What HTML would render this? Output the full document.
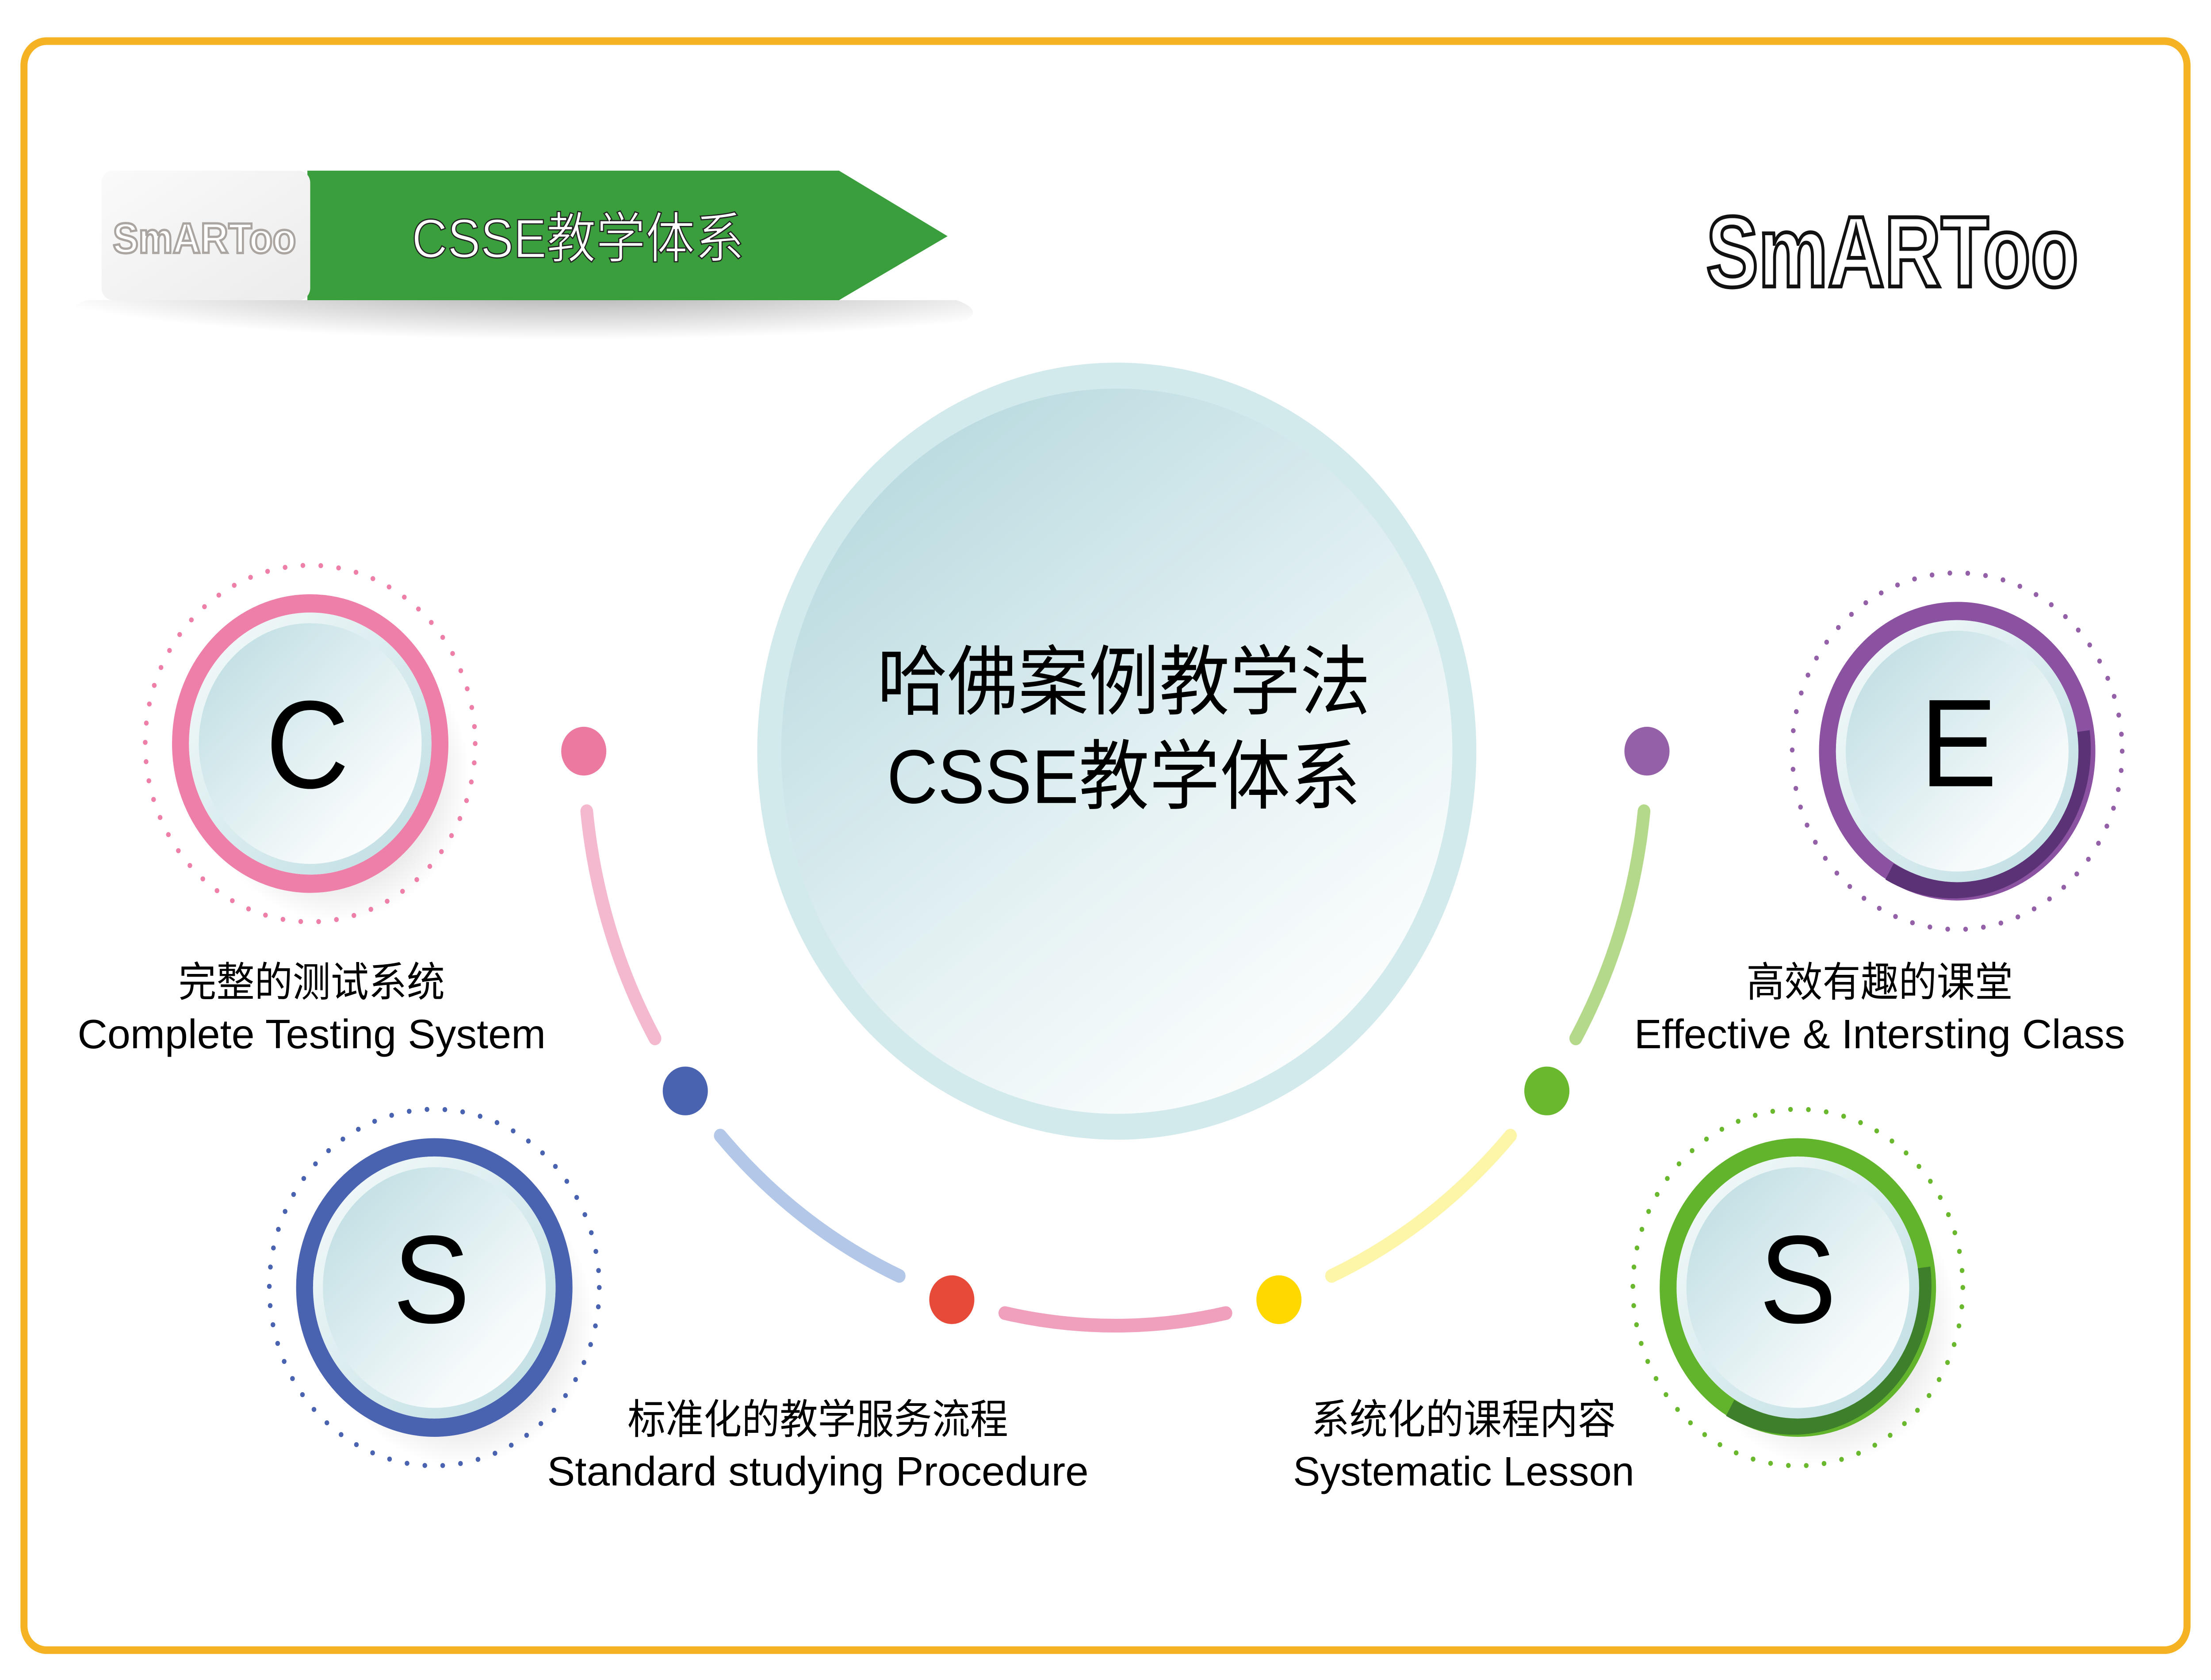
<!DOCTYPE html>
<html><head><meta charset="utf-8"><style>
html,body{margin:0;padding:0;background:#fff;width:100%;height:100%;overflow:hidden;}
svg{display:block;position:fixed;left:0;top:0;width:100vw;height:100vh;}
text{font-family:"Liberation Sans","Noto Sans CJK SC",sans-serif;}
</style></head><body>
<svg viewBox="0 0 1568 1102.6" preserveAspectRatio="none" xmlns="http://www.w3.org/2000/svg">
<defs>
<linearGradient id="fill" x1="0" y1="0" x2="1" y2="1">
<stop offset="0" stop-color="#b9dbe0"/><stop offset="0.75" stop-color="#f6fafb"/><stop offset="1" stop-color="#ffffff"/>
</linearGradient>
<linearGradient id="fill2" x1="1" y1="1" x2="0" y2="0">
<stop offset="0" stop-color="#bcdde2"/><stop offset="1" stop-color="#f7fbfb"/>
</linearGradient>
<linearGradient id="big" x1="0.2" y1="0.1" x2="0.8" y2="0.9">
<stop offset="0" stop-color="#bcdce1"/><stop offset="0.6" stop-color="#e6f2f4"/><stop offset="1" stop-color="#fbfdfd"/>
</linearGradient>
<radialGradient id="shad" cx="0.5" cy="0.5" r="0.5">
<stop offset="0" stop-color="#000" stop-opacity="0.3"/><stop offset="1" stop-color="#000" stop-opacity="0"/>
</radialGradient>
<radialGradient id="bshad" cx="0.55" cy="0.2" r="0.6">
<stop offset="0" stop-color="#000" stop-opacity="0.35"/><stop offset="1" stop-color="#000" stop-opacity="0"/>
</radialGradient>
<linearGradient id="logo" x1="0" y1="0" x2="1" y2="1">
<stop offset="0" stop-color="#fafafa"/><stop offset="1" stop-color="#ececec"/>
</linearGradient>
</defs>
<rect width="1568" height="1102.6" fill="#fff"/>
<rect x="17" y="27" width="1534" height="1056" rx="16" fill="none" stroke="#f5b324" stroke-width="5"/>

<ellipse cx="370" cy="205" rx="320" ry="30" fill="url(#bshad)"/>
<rect x="40" y="112" width="660" height="85" fill="#fff"/>
<polygon points="218,112 595,112 672,155 595,197 218,197" fill="#3a9e3d"/>
<rect x="72" y="112" width="148" height="85" rx="8" fill="url(#logo)"/>
<text x="145" y="166" font-size="28" font-weight="bold" text-anchor="middle" fill="#fff" stroke="#aaa5a0" stroke-width="1.5" textLength="130" lengthAdjust="spacingAndGlyphs">SmARToo</text>
<text x="410" y="169" font-size="36" text-anchor="middle" fill="#fff" stroke="#222" stroke-width="0.8" textLength="236" lengthAdjust="spacingAndGlyphs">CSSE教学体系</text>

<text x="1210" y="188" font-size="66" font-weight="bold" fill="#fff" stroke="#111" stroke-width="2.5" textLength="264" lengthAdjust="spacingAndGlyphs">SmARToo</text>

<circle cx="792" cy="493" r="255" fill="#d3eaed"/>
<circle cx="792" cy="493" r="238" fill="url(#big)"/>
<text x="797" y="465" font-size="50" text-anchor="middle" fill="#000">哈佛案例教学法</text>
<text x="797" y="527" font-size="50" text-anchor="middle" fill="#000">CSSE教学体系</text>

<g fill="none" stroke-width="9" stroke-linecap="round">
<path d="M416.1,532.4 A377,377 0 0 0 464.5,681.5" stroke="#f4b8cf"/>
<path d="M510.8,745.3 A377,377 0 0 0 637.7,837.4" stroke="#b3c7e8"/>
<path d="M712.6,861.8 A377,377 0 0 0 869.4,861.8" stroke="#f0a0bc"/>
<path d="M944.3,837.4 A377,377 0 0 0 1071.2,745.3" stroke="#fdf5a8"/>
<path d="M1117.5,681.5 A377,377 0 0 0 1165.9,532.4" stroke="#b5d98a"/>
</g>
<circle cx="414" cy="493" r="16" fill="#ec7aa0"/>
<circle cx="486" cy="716" r="16" fill="#4a63b0"/>
<circle cx="675" cy="853" r="16" fill="#e84a3a"/>
<circle cx="907" cy="853" r="16" fill="#ffd800"/>
<circle cx="1097" cy="716" r="16" fill="#6ab82e"/>
<circle cx="1168" cy="493" r="16" fill="#9460a8"/>

<g>
<ellipse cx="238" cy="510" rx="95" ry="95" fill="url(#shad)"/>
<circle cx="220" cy="488" r="117" fill="none" stroke="#ee7fa8" stroke-width="3.3" stroke-dasharray="0 12.7" stroke-linecap="round"/>
<circle cx="220" cy="488" r="92" fill="#fff" stroke="#ee7fa8" stroke-width="12"/>
<circle cx="220" cy="488" r="86" fill="url(#fill2)"/>
<circle cx="220" cy="488" r="79" fill="url(#fill)"/>
<text x="218" y="517" font-size="82" text-anchor="middle" fill="#000">C</text>
</g>
<g>
<ellipse cx="326" cy="867" rx="95" ry="95" fill="url(#shad)"/>
<circle cx="308" cy="845" r="117" fill="none" stroke="#4a63b0" stroke-width="3.3" stroke-dasharray="0 12.7" stroke-linecap="round"/>
<circle cx="308" cy="845" r="92" fill="#fff" stroke="#4a63b0" stroke-width="12"/>
<circle cx="308" cy="845" r="86" fill="url(#fill2)"/>
<circle cx="308" cy="845" r="79" fill="url(#fill)"/>
<text x="306" y="868" font-size="82" text-anchor="middle" fill="#000">S</text>
</g>
<g>
<circle cx="1388" cy="493" r="117" fill="none" stroke="#9460a8" stroke-width="3.3" stroke-dasharray="0 12.7" stroke-linecap="round"/>
<circle cx="1388" cy="493" r="92" fill="#fff" stroke="#8a52a0" stroke-width="12"/>
<path d="M1476,480 A92,92 0 0 1 1340,572" fill="none" stroke="#5a3275" stroke-width="12"/>
<circle cx="1388" cy="493" r="86" fill="url(#fill2)"/>
<circle cx="1388" cy="493" r="79" fill="url(#fill)"/>
<text x="1389" y="516" font-size="82" text-anchor="middle" fill="#000">E</text>
</g>
<g>
<ellipse cx="1293" cy="867" rx="95" ry="95" fill="url(#shad)"/>
<circle cx="1275" cy="845" r="117" fill="none" stroke="#6ab82e" stroke-width="3.3" stroke-dasharray="0 12.7" stroke-linecap="round"/>
<circle cx="1275" cy="845" r="92" fill="#fff" stroke="#62b42c" stroke-width="12"/>
<path d="M1363,832 A92,92 0 0 1 1227,924" fill="none" stroke="#3d7f2a" stroke-width="12"/>
<circle cx="1275" cy="845" r="86" fill="url(#fill2)"/>
<circle cx="1275" cy="845" r="79" fill="url(#fill)"/>
<text x="1275" y="868" font-size="82" text-anchor="middle" fill="#000">S</text>
</g>

<g font-size="27" text-anchor="middle" fill="#000">
<text x="221" y="654">完整的测试系统</text>
<text x="221" y="688" textLength="332" lengthAdjust="spacingAndGlyphs">Complete Testing System</text>
<text x="1333" y="654">高效有趣的课堂</text>
<text x="1333" y="688" textLength="348" lengthAdjust="spacingAndGlyphs">Effective &amp; Intersting Class</text>
<text x="580" y="941">标准化的教学服务流程</text>
<text x="580" y="975" textLength="384" lengthAdjust="spacingAndGlyphs">Standard studying Procedure</text>
<text x="1038" y="941">系统化的课程内容</text>
<text x="1038" y="975" textLength="242" lengthAdjust="spacingAndGlyphs">Systematic Lesson</text>
</g>
</svg>
</body></html>
